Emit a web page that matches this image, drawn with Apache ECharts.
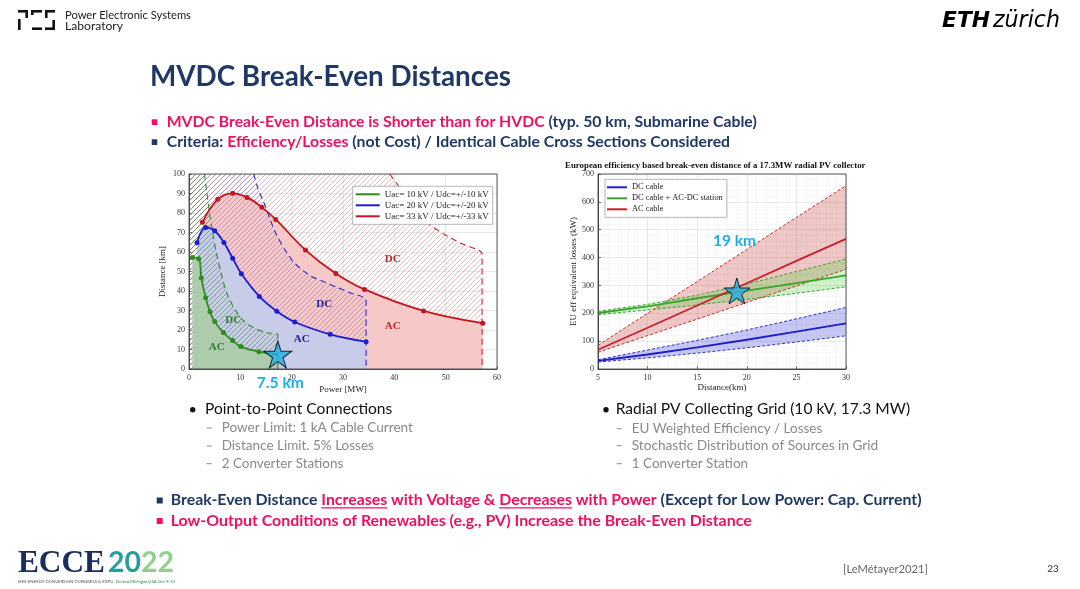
<!DOCTYPE html>
<html><head><meta charset="utf-8">
<script src="https://cdn.jsdelivr.net/npm/echarts/dist/echarts.min.js"></script>
<style>html,body{margin:0;padding:0;background:#fff}#c{width:1080px;height:589px}</style>
</head><body><div id="c"></div>
<script>
// ---------- Left chart data: Point-to-point break-even (Power [MW], Distance [km]) ----------
const greenCurve = [[0.65,57.2],[1.9,56.6],[2.4,46.7],[3.25,36.6],[4.1,29.3],[5.0,24.3],[6.7,18.7],[8.5,14.6],[10.1,11.5],[13.6,8.9]];
const greenCurveEnd = [17.3,7.5];
const blueCurve = [[1.56,64.7],[3.25,72.6],[5.0,70.9],[6.8,64.9],[8.5,56.8],[10.2,48.8],[13.7,37.2],[17.1,29.6],[20.6,24.1],[27.5,17.8],[34.5,14.0]];
const redCurve = [[2.6,75.3],[5.6,87],[8.5,90.1],[11.3,88],[14.2,82.9],[16.9,76.7],[22.7,61],[28.6,49],[34.2,40.8],[45.7,29.8],[57.2,23.5]];
// DC limit (5% losses / 1 kA) boundaries
const greenLimit = [[3.0,100],[3.5,90],[4.0,80],[4.6,70],[5.3,60],[6.2,50],[7.2,40],[8.6,32],[10.5,25],[13,20.5],[15.5,18.5],[17.3,17.7],[17.3,0]];
const blueLimit = [[12.6,100],[13.5,92],[14.8,84],[15.9,76],[17,69],[18.6,61.5],[20.3,55],[22.2,50.5],[24.2,47],[26.5,44.5],[28.7,42],[31.5,39],[34.5,35.5],[34.5,0]];
const redLimit = [[39.1,100],[40.5,95],[42.4,88],[44.5,81],[46.9,74],[49.8,69],[52.8,64.6],[57.1,59],[57.1,0]];
const regionTopLeft = [0,100];
const leftNames = ['Uac= 10 kV / Udc=+/-10 kV','Uac= 20 kV / Udc=+/-20 kV','Uac= 33 kV / Udc=+/-33 kV'];
const leftXTicks = {min:0, max:60, interval:10};
const leftYTicks = {min:0, max:100, interval:10};
const leftStar = [17.3,7.5];

// ---------- Right chart data: EU eff. equivalent losses (kW) vs Distance (km) ----------
const distKm = [5,10,15,20,25,30];
const dcCable = [29,52,78,105,134,164];
const dcLow = [25,40,57,76,97,119];
const dcHigh = [33,68,103,140,180,221];
const stCable = [201,225,254,281,308,336];
const stLow = [195,212,230,250,272,295];
const stHigh = [207,232,265,305,350,395];
const acCable = [69,148,228,308,388,467];
const acLow = [60,120,179,239,298,358];
const acHigh = [85,200,314,429,544,658];
const rightNames = ['DC cable','DC cable + AC-DC station','AC cable'];
const rightXTicks = {min:5, max:30, interval:5};
const rightYTicks = {min:0, max:700, interval:100};
const rightStar = [19,280];

// ---------- styling helpers ----------
const BLUE='#1f3864', PINK='#ee1163', SERIF='Liberation Serif', SANS='Lato';
const STAR='path://M50,0 L61,35 L98,35 L68,57 L79,91 L50,70 L21,91 L32,57 L2,35 L39,35 Z';
function hatch(color){
  const c=document.createElement('canvas'); c.width=c.height=5;
  const g=c.getContext('2d'); g.strokeStyle=color; g.lineWidth=0.8;
  g.beginPath(); g.moveTo(-1,6); g.lineTo(6,-1); g.moveTo(-1,1); g.lineTo(1,-1); g.moveTo(4,6); g.lineTo(6,4); g.stroke();
  return {image:c, repeat:'repeat'};
}
const zip = (xs, ys) => xs.map((x,i)=>[x,ys[i]]);

const mctx=document.createElement('canvas').getContext('2d');
function mw(t,size,weight,fam){ mctx.font=weight+' '+size+'px '+fam; return mctx.measureText(t).width; }
function textRuns(x,y,target,parts,weight,fam,z,style){
  const full=parts.map(p=>p[0]).join('');
  const size=100*target/mw(full,100,weight,fam);
  const font=(style||'')+' '+weight+' '+size.toFixed(2)+'px '+fam;
  let cx=x; const out=[];
  parts.forEach(([t,c,u])=>{
    mctx.font=font; const w=mctx.measureText(t).width;
    out.push({type:'text',x:cx,y:y,z:z||100,silent:true,style:{text:t,fill:c,font:font,textAlign:'left',verticalAlign:'middle',textVerticalAlign:'middle'}});
    if(u){ out.push({type:'line',z:z||100,silent:true,shape:{x1:cx,y1:y+size*0.5,x2:cx+w,y2:y+size*0.5},style:{stroke:c,lineWidth:1.2}}); }
    cx+=w;
  });
  return out;
}
function plainText(x,y,t,font,fill,align,z){
  return {type:'text',x:x,y:y,z:z||100,silent:true,style:{text:t,font:font,fill:fill,textAlign:align||'center',verticalAlign:'middle',textVerticalAlign:'middle'}};
}

const LG={left:189,top:174,width:308,height:195};
const RG={left:598,top:174,width:248,height:195};

function valAxis(grid,ticks,name,gap,isY,minor){
  return {type:'value',gridIndex:grid,min:ticks.min,max:ticks.max,interval:ticks.interval,
    name:name,nameLocation:'middle',nameGap:gap,
    nameTextStyle:{fontFamily:SERIF,fontSize:9,color:'#222'},
    axisLine:{show:true,onZero:false,lineStyle:{color:'#333',width:0.8}},
    axisTick:{show:true,inside:true,length:3,lineStyle:{color:'#333',width:0.6}},
    axisLabel:{fontFamily:SERIF,fontSize:8,color:'#333',margin:isY?4:5},
    splitLine:{show:true,lineStyle:{color:'#d9d9d9',width:0.6}},
    minorTick:{show:false,splitNumber:5},
    minorSplitLine:{show:!!minor,lineStyle:{color:'#efefef',width:0.5}}
  };
}

const series=[];
// left chart fills (layered)
function hatchArea(data,color){ series.push({type:'line',xAxisIndex:0,yAxisIndex:0,data:[regionTopLeft].concat(data),showSymbol:false,symbol:'none',silent:true,lineStyle:{width:0,opacity:0},areaStyle:{color:hatch(color),opacity:1},z:1}); }
function acArea(data,color){ series.push({type:'line',xAxisIndex:0,yAxisIndex:0,data:data,smooth:0.4,showSymbol:false,symbol:'none',silent:true,lineStyle:{width:0,opacity:0},areaStyle:{color:color,opacity:1},z:1}); }
hatchArea(redLimit,'rgba(185,80,80,0.45)');
acArea(redCurve,'#f6c8c8');
hatchArea(blueLimit,'rgba(120,60,150,0.45)');
acArea(blueCurve,'#c9cce9');
hatchArea(greenLimit,'rgba(50,130,50,0.65)');
acArea(greenCurve.concat([greenCurveEnd]),'#aecbad');
// dashed limits
[[redLimit,'#c8282d'],[blueLimit,'#2a2ad0'],[greenLimit,'#2f8a2f']].forEach(([d,c])=>{
  series.push({type:'line',xAxisIndex:0,yAxisIndex:0,data:d,showSymbol:false,symbol:'none',silent:true,smooth:0.2,lineStyle:{color:c,width:1.1,type:[6,4]},z:3});
});
// break-even curves
[[greenCurve.concat([{value:greenCurveEnd,symbol:'none'}]),'#2e8b1e',leftNames[0]],[blueCurve,'#1d1dd0',leftNames[1]],[redCurve,'#c8141e',leftNames[2]]].forEach(([d,c,n])=>{
  series.push({name:n,type:'line',xAxisIndex:0,yAxisIndex:0,data:d,smooth:0.4,symbol:'circle',symbolSize:5,showSymbol:true,color:c,lineStyle:{color:c,width:1.8},itemStyle:{color:c},z:4});
});
series.push({type:'scatter',xAxisIndex:0,yAxisIndex:0,data:[leftStar],symbol:STAR,symbolSize:[28,27],itemStyle:{color:'#22ade6',borderColor:'#000',borderWidth:1},z:10,silent:true});

// right chart uncertainty bands
function band(low,high,color,lc){
  series.push({type:'custom',coordinateSystem:'cartesian2d',xAxisIndex:1,yAxisIndex:1,data:[[distKm[0],low[0]]],silent:true,z:2,clip:true,
    renderItem:function(params,api){
      const up=distKm.map((x,i)=>api.coord([x,high[i]]));
      const dn=distKm.map((x,i)=>api.coord([x,low[i]])).reverse();
      return {type:'polygon',shape:{points:up.concat(dn)},style:{fill:color}};
    }});
  [low,high].forEach(v=>series.push({type:'line',xAxisIndex:1,yAxisIndex:1,data:zip(distKm,v),showSymbol:false,symbol:'none',silent:true,lineStyle:{color:lc,width:1,type:[3,2]},z:3}));
}
band(acLow,acHigh,'rgba(205,70,70,0.30)','#c03030');
band(stLow,stHigh,'rgba(80,210,60,0.28)','#3aa52a');
band(dcLow,dcHigh,'rgba(70,70,220,0.30)','#3030c8');
[[dcCable,'#1d1dcc',rightNames[0]],[stCable,'#3aa52a',rightNames[1]],[acCable,'#c8202a',rightNames[2]]].forEach(([v,c,n])=>{
  series.push({name:n,type:'line',xAxisIndex:1,yAxisIndex:1,data:zip(distKm,v),showSymbol:false,symbol:'none',color:c,lineStyle:{color:c,width:1.8},z:4});
});
series.push({type:'scatter',xAxisIndex:1,yAxisIndex:1,data:[rightStar],symbol:STAR,symbolSize:[26,26],itemStyle:{color:'#22ade6',borderColor:'#000',borderWidth:1},z:10,silent:true});

// ---------- slide graphics ----------
const G=[];
// PES logo
[[18,10,10,2.6],[25.4,10,2.6,8],[18,19,2.6,11],[31,10,11,2.6],[31,10,2.6,5],[32,27.4,10,2.6],[45,10,10,2.6],[45,10,2.6,8],[45,27.4,10,2.6],[52.4,20,2.6,10]].forEach(r=>{
  G.push({type:'rect',shape:{x:r[0],y:r[1],width:r[2],height:r[3]},style:{fill:'#111'},silent:true});
});
G.push(...textRuns(65,15,126,[['Power Electronic Systems','#222']],'normal',SANS));
G.push(...textRuns(65,26,58,[['Laboratory','#222']],'normal',SANS));
// ETH
G.push(...textRuns(942,21,48,[['ETH','#000']],'900',"'DejaVu Sans'",100,'italic'));
G.push(...textRuns(993,21,67,[['zürich','#000']],'normal',"'DejaVu Sans'",100,'italic'));
// title and top bullets
G.push(...textRuns(150,77,361,[['MVDC Break-Even Distances',BLUE]],'bold',SANS));
G.push({type:'rect',shape:{x:151.7,y:119.3,width:5.6,height:5.7},style:{fill:PINK},silent:true});
G.push(...textRuns(166.7,121.5,590,[['MVDC Break-Even Distance is Shorter than for HVDC ',PINK],['(typ. 50 km, Submarine Cable)',BLUE]],'bold',SANS));
G.push({type:'rect',shape:{x:151.7,y:139.3,width:5.6,height:5.7},style:{fill:BLUE},silent:true});
G.push(...textRuns(166.7,142,563.5,[['Criteria: ',BLUE],['Efficiency/Losses',PINK],[' (not Cost) / Identical Cable Cross Sections Considered',BLUE]],'bold',SANS));
// lower lists
G.push({type:'circle',shape:{cx:192.7,cy:409.7,r:2.7},style:{fill:'#111'},silent:true});
G.push(...textRuns(205,409,187.3,[['Point-to-Point Connections','#111']],'normal',SANS));
[['Power Limit: 1 kA Cable Current',428,413],['Distance Limit. 5% Losses',446,374],['2 Converter Stations',463.7,343.3]].forEach(([t,y,e])=>{
  G.push({type:'line',shape:{x1:206.7,y1:y,x2:211.7,y2:y},style:{stroke:'#8a8a8a',lineWidth:1},silent:true});
  G.push(...textRuns(221.7,y,e-221.7,[[t,'#8a8a8a']],'normal',SANS));
});
G.push({type:'circle',shape:{cx:606,cy:409.7,r:2.7},style:{fill:'#111'},silent:true});
G.push(...textRuns(615.7,409,294.3,[['Radial PV Collecting Grid (10 kV, 17.3 MW)','#111']],'normal',SANS));
[['EU Weighted Efficiency / Losses',428.7,822.3],['Stochastic Distribution of Sources in Grid',445.7,878.3],['1 Converter Station',463.7,748.3]].forEach(([t,y,e])=>{
  G.push({type:'line',shape:{x1:616.7,y1:y,x2:621.7,y2:y},style:{stroke:'#8a8a8a',lineWidth:1},silent:true});
  G.push(...textRuns(631.7,y,e-631.7,[[t,'#8a8a8a']],'normal',SANS));
});
// bottom bullets
G.push({type:'rect',shape:{x:156.7,y:497.5,width:6,height:6},style:{fill:BLUE},silent:true});
G.push(...textRuns(170.7,500,751,[['Break-Even Distance ',BLUE],['Increases',PINK,true],[' with Voltage & ',PINK],['Decreases',PINK,true],[' with Power',PINK],[' (Except for Low Power: Cap. Current)',BLUE]],'bold',SANS));
G.push({type:'rect',shape:{x:156.7,y:518,width:6,height:6},style:{fill:PINK},silent:true});
G.push(...textRuns(170.7,521,581.5,[['Low-Output Conditions of Renewables (e.g., PV) Increase the Break-Even Distance',PINK]],'bold',SANS));
// footer
G.push(...textRuns(843,569,85,[['[LeMétayer2021]','#666']],'normal',SANS));
G.push(plainText(1053,569,'23','10px '+SANS,'#333','center'));
G.push(...textRuns(18,564,87,[['ECCE','#1b2c5e']],'900',SERIF));
G.push(...textRuns(108,563,66,[['20','#2a9d9a'],['22','#8fd08a']],'bold',SANS));
G.push(...textRuns(18,582,157,[['IEEE ENERGY CONVERSION CONGRESS & EXPO  ','#555'],['Detroit,Michigan,USA Oct 9-13','#2a8a3a']],'normal',SANS));
// chart frames
[LG,RG].forEach(g=>G.push({type:'rect',z:50,silent:true,shape:{x:g.left,y:g.top,width:g.width,height:g.height},style:{fill:'none',stroke:'#333',lineWidth:0.8}}));
// right chart title
G.push(...textRuns(565,166,301,[['European efficiency based break-even distance of a 17.3MW radial PV collector','#111']],'bold',SERIF));
// region labels in left chart
[['DC',392.7,259.3,'#c0282d'],['AC',392.7,325.7,'#c0282d'],['DC',324.3,304.3,'#1f1f8f'],['AC',301.7,339.3,'#1f1f8f'],['DC',233.3,320,'#2e7d32'],['AC',216.7,346.7,'#2e7d32']].forEach(([t,x,y,c])=>{
  G.push(plainText(x,y,t,'bold 11px '+SERIF,c,'center',60));
});
// annotations
G.push(...textRuns(256.7,382.5,47.3,[['7.5 km','#1eaee8']],'bold',SANS,120));
G.push(...textRuns(713,241,43,[['19 km','#1eaee8']],'bold',SANS,120));

const chart=echarts.init(document.getElementById('c'),null,{renderer:'canvas'});
chart.setOption({
  animation:false,
  backgroundColor:'#fff',
  grid:[Object.assign({containLabel:false},LG),Object.assign({containLabel:false},RG)],
  xAxis:[valAxis(0,leftXTicks,'Power [MW]',16,false,false),valAxis(1,rightXTicks,'Distance(km)',14,false,true)],
  yAxis:[valAxis(0,leftYTicks,'Distance [km]',22,true,false),valAxis(1,rightYTicks,'EU eff equivalent losses (kW)',20,true,true)],
  legend:[
    {data:leftNames,left:352.7,top:186.3,orient:'vertical',icon:'rect',itemWidth:24,itemHeight:2,itemGap:1,padding:[3,4,3,3],backgroundColor:'#fff',borderColor:'#888',borderWidth:0.6,selectedMode:false,textStyle:{fontFamily:SERIF,fontSize:9,color:'#222',lineHeight:10}},
    {data:rightNames,left:605,top:179.3,orient:'vertical',icon:'rect',itemWidth:20,itemHeight:2,itemGap:1,padding:[3,4,3,2],backgroundColor:'#fff',borderColor:'#888',borderWidth:0.6,selectedMode:false,textStyle:{fontFamily:SERIF,fontSize:8.4,color:'#222',lineHeight:10}}
  ],
  series:series,
  graphic:{elements:G}
});
</script></body></html>
